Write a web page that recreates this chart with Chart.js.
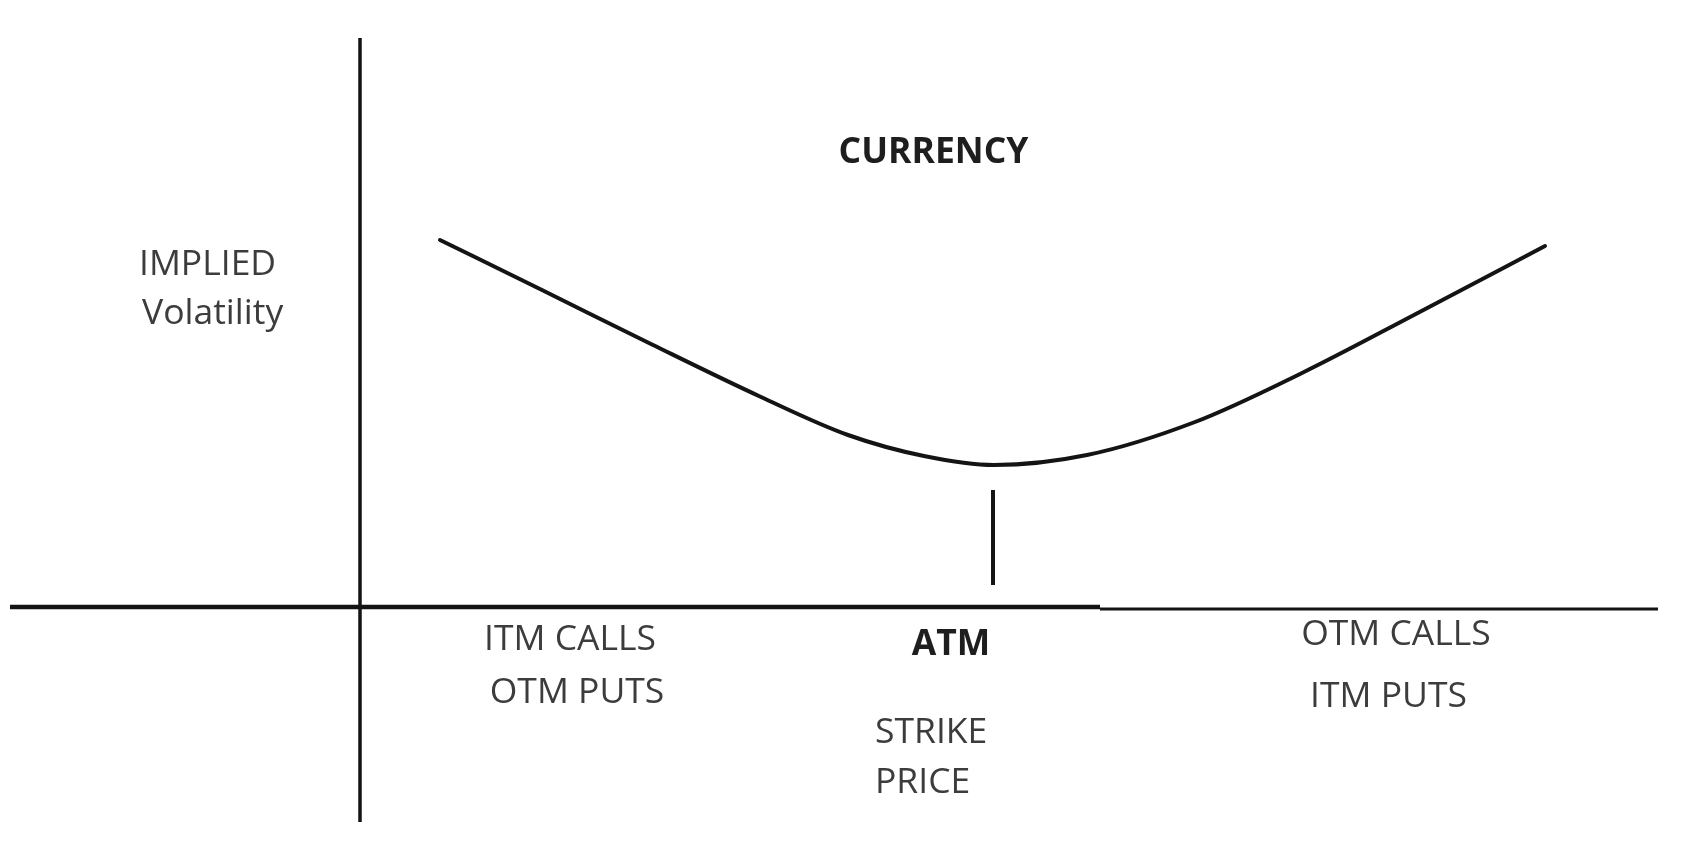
<!DOCTYPE html>
<html>
<head>
<meta charset="utf-8">
<script src="https://cdn.jsdelivr.net/npm/chart.js@4"></script>
<style>
  html, body { margin: 0; padding: 0; background: #ffffff; }
  #wrap { width: 1704px; height: 861px; position: relative; }
</style>
</head>
<body>
<div id="wrap"><canvas id="c"></canvas></div>
<script>
// ---- Data (schematic units: x = strike relative to the vertical axis, y = implied volatility) ----
const smileStrike = [0.80, 1.83, 2.92, 4.01, 4.88, 5.64, 6.34, 7.27, 8.35, 9.44, 10.53, 11.85];
const smileVol    = [3.67, 3.165, 2.625, 2.10, 1.72, 1.51, 1.42, 1.52, 1.85, 2.35, 2.915, 3.61];

const xAxisLeftX  = [-3.50, 7.40];
const xAxisLeftY  = [0.00, 0.00];
const xAxisRightX = [7.40, 12.98];
const xAxisRightY = [-0.02, -0.02];
const yAxisX      = [0.00, 0.00];
const yAxisY      = [5.69, -2.15];
const atmTickX    = [6.33, 6.33];
const atmTickY    = [1.17, 0.22];

const labelTexts = ['CURRENCY', 'IMPLIED', 'Volatility', 'ITM CALLS', 'OTM PUTS', 'ATM', 'STRIKE', 'PRICE', 'OTM CALLS', 'ITM PUTS'];

// ---- Label placement (data units) and styles ----
const labelPlacement = [
  { x: 5.735, y: 4.44,  align: 'center', bold: true  },
  { x: -2.21, y: 3.32,  align: 'left',   bold: false },
  { x: -2.18, y: 2.83,  align: 'left',   bold: false },
  { x: 2.10,  y: -0.43, align: 'center', bold: false },
  { x: 2.17,  y: -0.96, align: 'center', bold: false },
  { x: 5.91,  y: -0.48, align: 'center', bold: true  },
  { x: 5.15,  y: -1.36, align: 'left',   bold: false },
  { x: 5.15,  y: -1.86, align: 'left',   bold: false },
  { x: 10.36, y: -0.38, align: 'center', bold: false },
  { x: 10.285,y: -1.00, align: 'center', bold: false }
];

function pts(xs, ys) { return xs.map((x, i) => ({ x: x, y: ys[i] })); }

const ink = '#141414';

const labelPlugin = {
  id: 'labels',
  afterDatasetsDraw(chart) {
    const ctx = chart.ctx;
    const xs = chart.scales.x, ys = chart.scales.y;
    ctx.save();
    ctx.textBaseline = 'alphabetic';
    labelTexts.forEach((t, i) => {
      const p = labelPlacement[i];
      ctx.font = (p.bold ? 'bold ' : '') + '35.5px "Open Sans"';
      ctx.fillStyle = p.bold ? '#1e1e1e' : '#3c3c3c';
      ctx.textAlign = p.align;
      ctx.fillText(t, xs.getPixelForValue(p.x), ys.getPixelForValue(p.y));
    });
    ctx.restore();
  }
};

const lineDs = (data, width, extra) => Object.assign({
  data: data, borderColor: ink, borderWidth: width, pointRadius: 0,
  showLine: true, fill: false, tension: 0
}, extra || {});

new Chart(document.getElementById('c'), {
  type: 'scatter',
  data: {
    datasets: [
      lineDs(pts(smileStrike, smileVol), 4, { cubicInterpolationMode: 'monotone', borderCapStyle: 'round' }),
      lineDs(pts(xAxisLeftX, xAxisLeftY), 4.5),
      lineDs(pts(xAxisRightX, xAxisRightY), 3),
      lineDs(pts(yAxisX, yAxisY), 3.5),
      lineDs(pts(atmTickX, atmTickY), 4)
    ]
  },
  options: {
    responsive: true,
    maintainAspectRatio: false,
    animation: false,
    layout: { padding: 0 },
    plugins: { legend: { display: false }, tooltip: { enabled: false }, title: { display: false } },
    scales: {
      x: { type: 'linear', min: -3.60, max: 13.44, display: false },
      y: { type: 'linear', min: -2.54, max: 6.07, display: false }
    }
  },
  plugins: [labelPlugin]
});
</script>
</body>
</html>
